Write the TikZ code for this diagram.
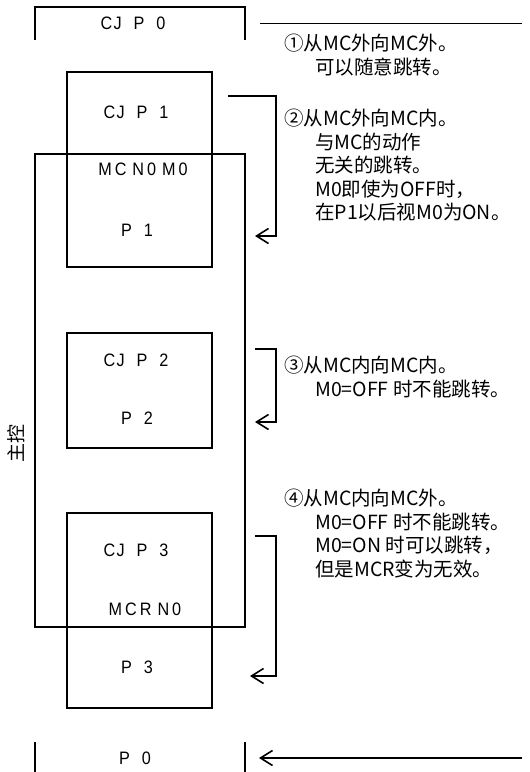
\documentclass[tikz,border=0pt]{standalone}
\usepackage{fontspec}
\setmainfont{Noto Sans CJK SC}
\newfontfamily\boxfont[FakeStretch=0.9,LetterSpace=8]{Liberation Sans}
\usetikzlibrary{arrows.meta}

\tikzset{
  frame/.style={line width=1.9pt},
  block/.style={line width=1.4pt},
  jump/.style={line width=1.6pt,-{Straight Barb[length=12pt,width=15pt]}},
  lbl/.style={font=\boxfont\fontsize{18}{20}\selectfont,inner sep=0pt},
  note/.style={font=\fontsize{19.5}{23.5}\selectfont,align=left,anchor=north west,inner sep=0pt},
}
\newcommand{\ind}{\hspace*{31pt}}

\begin{document}
\begin{tikzpicture}[x=1pt,y=-1pt]
  \useasboundingbox (0,0) rectangle (530,772);
  % program frame
  \draw[frame] (35,40) -- (35,7) -- (245,7) -- (245,40);
  \draw[frame] (35,742) -- (35,772);
  \draw[frame] (245,742) -- (245,772);
  \draw[frame] (35,154) rectangle (245,627);
  % inner blocks
  \draw[block] (67,72) rectangle (212,267);
  \draw[block] (67,333) rectangle (212,448);
  \draw[block] (67,513) rectangle (212,708);

  \node[lbl] (cj0) at (133,23) {CJ\ \ P\ \ 0};
  \node[lbl] (cj1) at (136,112) {CJ\ \ P\ \ 1};
  \node[lbl] (mc) at (143,169) {M\,C\ N\,0\ M\,0};
  \node[lbl] (p1) at (137,230) {P\ \ 1};
  \node[lbl] (cj2) at (136,360) {CJ\ \ P\ \ 2};
  \node[lbl] (p2) at (137,418) {P\ \ 2};
  \node[lbl] (cj3) at (136,550) {CJ\ \ P\ \ 3};
  \node[lbl] (mcr) at (145,609) {M\,C\,R\ N\,0};
  \node[lbl] (p3) at (137,667) {P\ \ 3};
  \node[lbl] (p0) at (135,758) {P\ \ 0};
  \node[rotate=90,font=\fontsize{19}{20}\selectfont,inner sep=0pt] (main) at (16,443) {主控};

  % jumps
  \coordinate (s0) at (260,23.5);
  \coordinate (e0) at (522,23.5);
  \draw[frame] (s0) -- (e0);
  \coordinate (r0) at (522,758);
  \coordinate (t0) at (259,758);
  \draw[jump] (r0) -- (t0);
  \coordinate (s1) at (228,96);
  \coordinate (t1) at (255,236);
  \draw[jump] (s1) -- (276,96) |- (t1);
  \coordinate (s2) at (255,349);
  \coordinate (t2) at (255,422);
  \draw[jump] (s2) -- (276,349) |- (t2);
  \coordinate (s3) at (255,536);
  \coordinate (t3) at (250,676);
  \draw[jump] (s3) -- (276,536) |- (t3);

  % notes
  \node[note] (n1) at (284,34) {①从MC外向MC外。\\\ind 可以随意跳转。};
  \node[note] (n2) at (284,109) {②从MC外向MC内。\\\ind 与MC的动作\\\ind 无关的跳转。\\\ind M0即使为OFF时，\\\ind 在P1以后视M0为ON。};
  \node[note] (n3) at (284,356) {③从MC内向MC内。\\\ind M0=OFF 时不能跳转。};
  \node[note] (n4) at (284,489) {④从MC内向MC外。\\\ind M0=OFF 时不能跳转。\\\ind M0=ON 时可以跳转，\\\ind 但是MCR变为无效。};
\end{tikzpicture}
\end{document}
